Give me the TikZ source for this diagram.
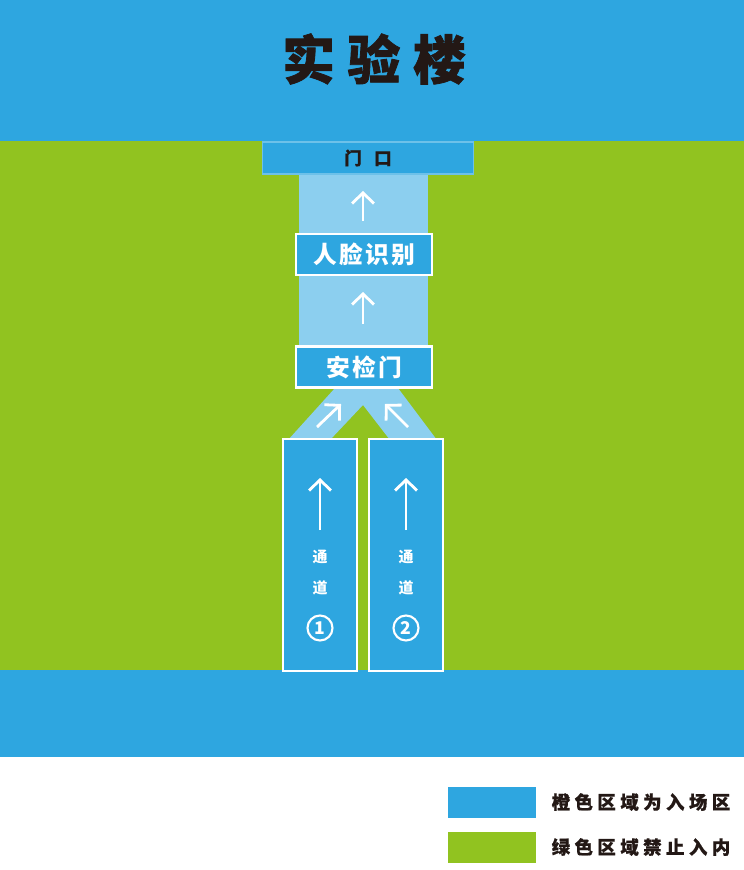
\documentclass[tikz,border=0pt]{standalone}
\usepackage{fontspec}
\newfontfamily\cjk{Noto Sans CJK SC}
\usetikzlibrary{arrows.meta}
\definecolor{zoneblue}{RGB}{46,166,224}
\definecolor{zonegreen}{RGB}{145,195,32}
\definecolor{pathblue}{RGB}{140,207,239}
\definecolor{inkdark}{RGB}{35,24,21}
\begin{document}
\begin{tikzpicture}[x=0.02cm,y=-0.02cm,
                    thick,
                    gate/.style={draw=white,line width=1.2pt,fill=zoneblue,text=white,inner sep=0pt,
                                 minimum width=2.72cm,minimum height=0.82cm,
                                 font=\cjk\bfseries\fontsize{13.5}{13.5}\selectfont\addfontfeature{LetterSpace=10}},
                    lane/.style={draw=white,line width=1.2pt,fill=zoneblue,inner sep=0pt,
                                 minimum width=1.48cm,minimum height=4.64cm},
                    lanetext/.style={text=white,inner sep=0pt,font=\cjk\bfseries\fontsize{8.5}{8.5}\selectfont},
                    lanenum/.style={circle,draw=white,line width=1.2pt,text=white,inner sep=0pt,
                                    minimum size=0.5cm,font=\cjk\bfseries\fontsize{10}{10}\selectfont},
                    flow/.style={draw=white,line width=1.6pt,-{Straight Barb[length=6pt,width=12.5pt]}},
                    swatch/.style={inner sep=0pt,minimum width=1.76cm,minimum height=0.62cm},
                    legend/.style={anchor=west,inner sep=0pt,text=inkdark,
                                   font=\cjk\bfseries\fontsize{10.5}{10.5}\selectfont\addfontfeature{LetterSpace=24,FakeBold=0.6}}
                   ]
  \fill[white] (0,0) rectangle (744,870);
  \fill[zoneblue] (0,0) rectangle (744,141);
  \fill[zonegreen] (0,141) rectangle (744,670);
  \fill[zoneblue] (0,670) rectangle (744,757);

  \node[inner sep=0pt,text=inkdark,
        font=\cjk\bfseries\fontsize{30}{30}\selectfont\addfontfeature{LetterSpace=24,FakeBold=1.5}] (title) at (374,59) {实验楼};

  \fill[pathblue] (299,174) rectangle (428,388);
  \fill[pathblue] (335,388) -- (398,388) -- (437,440) -- (390,440) -- (363,405)
                  -- (330,440) -- (288,440) -- cycle;

  \node[draw=zoneblue!70!white,line width=0.6pt,fill=zoneblue,inner sep=0pt,text=inkdark,
        minimum width=4.22cm,minimum height=0.64cm,
        font=\cjk\bfseries\fontsize{10}{10}\selectfont\addfontfeature{FakeBold=0.8}] (door) at (368,158) {门\hspace{7pt}口};
  \node[gate] (face) at (364,254.5) {人脸识别};
  \node[gate] (check) at (364,367) {安检门};

  \node[lane] (lane1) at (320,555) {};
  \node[lane] (lane2) at (406,555) {};
  \node[lanetext] (tong1) at (320,557) {通};
  \node[lanetext] (dao1) at (320,588) {道};
  \node[lanenum] (num1) at (320,628) {1};
  \node[lanetext] (tong2) at (406,557) {通};
  \node[lanetext] (dao2) at (406,588) {道};
  \node[lanenum] (num2) at (406,628) {2};

  \coordinate (up1a) at (363,221);
  \coordinate (up1b) at (363,191);
  \coordinate (up2a) at (363,324);
  \coordinate (up2b) at (363,292);
  \coordinate (inla) at (317,427);
  \coordinate (inlb) at (341,404);
  \coordinate (inra) at (408,427);
  \coordinate (inrb) at (385,404);
  \coordinate (l1a) at (320,530);
  \coordinate (l1b) at (320,478);
  \coordinate (l2a) at (406,530);
  \coordinate (l2b) at (406,478);
  \path%
   (up1a) edge [flow] (up1b)
   (up2a) edge [flow] (up2b)
   (inla) edge [flow] (inlb)
   (inra) edge [flow] (inrb)
   (l1a) edge [flow] (l1b)
   (l2a) edge [flow] (l2b);

  \node[swatch,fill=zoneblue] (keyblue) at (492,802.5) {};
  \node[swatch,fill=zonegreen] (keygreen) at (492,847.5) {};
  \node[legend] (keybluetext) at (551,802) {橙色区域为入场区};
  \node[legend] (keygreentext) at (551,847) {绿色区域禁止入内};
\end{tikzpicture}
\end{document}
